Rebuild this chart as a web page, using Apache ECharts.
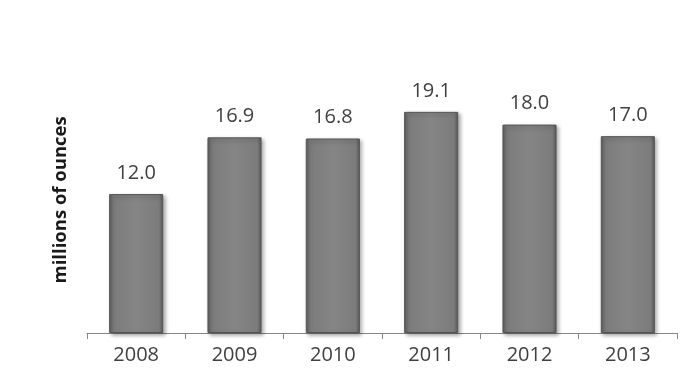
<!DOCTYPE html>
<html><head><meta charset="utf-8">
<script src="https://cdn.jsdelivr.net/npm/echarts@6/dist/echarts.min.js"></script>
<style>html,body{margin:0;padding:0;background:#fff}#c{width:687px;height:386px}</style>
</head><body><div id="c"></div>
<script>
var categories = ['2008','2009','2010','2011','2012','2013'];
var values = [12.0, 16.9, 16.8, 19.1, 18.0, 17.0];
var axisName = 'millions of ounces';

var chart = echarts.init(document.getElementById('c'));
chart.setOption({
  animation: false,
  grid: {left: 87, right: 10, top: 66.7, bottom: 53},
  xAxis: {
    type: 'category', data: categories,
    axisLine: {lineStyle: {color: '#868686', width: 1}},
    axisTick: {show: true, length: 6, lineStyle: {color: '#868686'}},
    axisLabel: {color: '#404040', fontSize: 20, fontFamily: 'Open Sans', margin: 12}
  },
  yAxis: {
    type: 'value', min: 0, max: 23,
    name: axisName, nameLocation: 'middle', nameGap: 17, nameRotate: 90,
    nameTextStyle: {color: '#1a1a1a', fontSize: 18.5, fontWeight: 'bold', fontFamily: 'Open Sans'},
    axisLine: {show: false}, axisTick: {show: false}, axisLabel: {show: false},
    splitLine: {show: false}
  },
  series: [{
    type: 'bar', data: values, barWidth: '55%',
    itemStyle: {
      color: new echarts.graphic.LinearGradient(0, 0, 1, 0, [
        {offset: 0, color: '#5e5e5e'},
        {offset: 0.08, color: '#7c7c7c'},
        {offset: 0.5, color: '#858585'},
        {offset: 0.92, color: '#7c7c7c'},
        {offset: 1, color: '#5a5a5a'}
      ]),
      borderColor: '#555', borderWidth: 1,
      shadowColor: 'rgba(0,0,0,0.35)', shadowBlur: 4, shadowOffsetX: 2, shadowOffsetY: 2
    },
    label: {
      show: true, position: 'top', distance: 11,
      formatter: function(p){ return p.value.toFixed(1); },
      color: '#404040', fontSize: 20, fontFamily: 'Open Sans'
    }
  }]
});
</script></body></html>
